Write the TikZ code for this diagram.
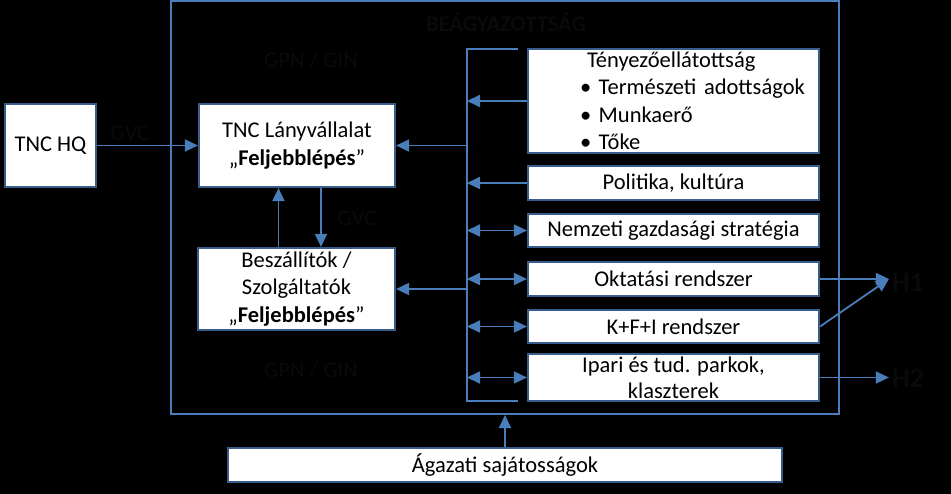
\documentclass[tikz,border=0pt]{standalone}
\usepackage{fontspec}
\setmainfont{Carlito}
\usetikzlibrary{arrows.meta, positioning, calc}
\definecolor{boxblue}{RGB}{56,93,138}
\definecolor{lineblue}{RGB}{74,126,187}
\definecolor{darktext}{RGB}{10,10,10}
\newcommand{\bodyfont}{\fontsize{22.5}{27.5}\selectfont}

\begin{document}
\begin{tikzpicture}[x=1pt, y=-1pt, font=\bodyfont,
  box/.style={shape=rectangle, draw=boxblue, line width=2.2pt, fill=white, align=center, inner xsep=4pt, inner ysep=0pt},
  link/.style={draw=lineblue, line width=1.8pt},
  >={Triangle[length=13pt, width=12pt]},
  tag/.style={text=darktext, inner sep=0pt}]
\fill[black] (0,0) rectangle (951,494);
\useasboundingbox (0,0) rectangle (951,494);
% embedding frame
\node[draw=lineblue, line width=2pt, minimum width=668pt, minimum height=413pt] (frame) at (505,207.5) {};
\node[tag, font=\bodyfont\bfseries] (embed) at (506,22) {BEÁGYAZOTTSÁG};
\node[tag] (gpntop) at (311,60) {GPN / GIN};
\node[tag] (gpnbot) at (311,370) {GPN / GIN};
% firms
\node[box, minimum width=91pt, minimum height=83pt] (hq) at (50.5,145.5) {TNC HQ};
\node[box, minimum width=196pt, minimum height=83pt] (tnc) at (297,145.5) {TNC Lányvállalat\\„\textbf{Feljebblépés}”};
\node[box, minimum width=197pt, minimum height=82pt] (supp) at (296.5,289) {Beszállítók /\\Szolgáltatók\\„\textbf{Feljebblépés}”};
\node[tag] (gvctop) at (130,133) {GVC};
\node[tag] (gvcmid) at (357,218) {GVC};
\draw[link,->] (hq) -- (tnc);
\draw[link,->] ([xshift=-18pt]supp.north) -- ([xshift=-18pt]supp.north |- tnc.south);
\draw[link,->] ([xshift=24pt]tnc.south) -- ([xshift=24pt]tnc.south |- supp.north);
% factors
\node[box, minimum width=291pt, minimum height=104pt, text width=283pt, align=left] (factor) at (673.5,101) {\hspace*{55pt}Tényezőellátottság\\\hspace*{48pt}•\ Természeti adottságok\\\hspace*{48pt}•\ Munkaerő\\\hspace*{48pt}•\ Tőke};
\node[box, minimum width=291pt, minimum height=34pt] (pol) at (673.5,183) {Politika, kultúra};
\node[box, minimum width=291pt, minimum height=33pt] (nemz) at (673.5,230.5) {Nemzeti gazdasági stratégia};
\node[box, minimum width=291pt, minimum height=34pt] (okt) at (673.5,279) {Oktatási rendszer};
\node[box, minimum width=291pt, minimum height=33pt] (kfi) at (673.5,326.5) {K+F+I rendszer};
\node[box, minimum width=291pt, minimum height=47pt, font=\fontsize{22.5}{26}\selectfont] (ipari) at (673.5,377.5) {Ipari és tud. parkok,\\klaszterek};
\node[box, minimum width=554pt, minimum height=34pt] (agaz) at (505,465) {Ágazati sajátosságok};
% bus
\coordinate (stubtop) at (518,49);
\coordinate (bustop) at (467,49);
\coordinate (busbot) at (467,401);
\coordinate (stubbot) at (518,401);
\draw[link] (stubtop) -- (bustop) -- (busbot) -- (stubbot);
\draw[link,->] (factor.west) -- (factor.west -| bustop);
\draw[link,->] (pol.west) -- (pol.west -| bustop);
\foreach \b in {nemz,okt,kfi,ipari}{
	\draw[link,<->] (\b.west -| bustop) -- (\b.west);
}
\draw[link,->] (tnc.east -| bustop) -- (tnc.east);
\draw[link,->] (supp.east -| bustop) -- (supp.east);
\draw[link,->] (agaz.north) -- (agaz.north |- frame.south);
% outputs
\node[tag, inner xsep=3pt, font=\fontsize{28}{32}\selectfont\bfseries] (h1) at (908,282) {H1};
\node[tag, inner xsep=3pt, font=\fontsize{28}{32}\selectfont\bfseries] (h2) at (908,378) {H2};
\draw[link,->] (okt.east) -- (okt.east -| h1.west);
\draw[link,->] (kfi.east) -- (okt.east -| h1.west);
\draw[link,->] (ipari.east) -- (ipari.east -| h2.west);
\end{tikzpicture}
\end{document}
